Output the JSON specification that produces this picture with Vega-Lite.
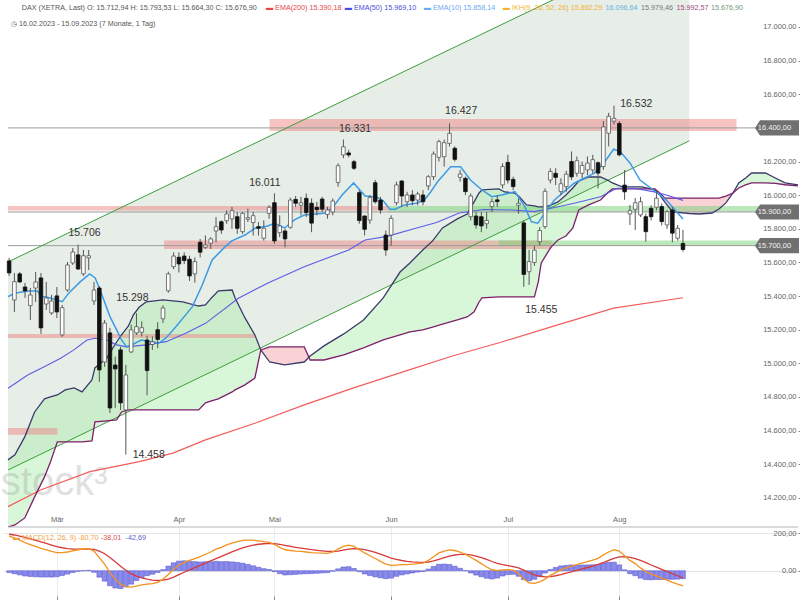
{
"$schema": "https://vega.github.io/schema/vega-lite/v6.json",
"padding": 0,
"spacing": 0,
"bounds": "flush",
"background": "white",
"config": {
  "view": {"stroke": null},
  "font": "Liberation Sans",
  "locale": {"number": {"decimal": ",", "thousands": ".", "grouping": [3], "currency": ["", " €"]}}
},
"datasets": {
  "candles": [
    {"i":0,"o":15609,"h":15627,"l":15520,"c":15538},{"i":1,"o":15377,"h":15537,"l":15306,"c":15486},{"i":2,"o":15532,"h":15543,"l":15478,"c":15484},{"i":3,"o":15454,"h":15478,"l":15389,"c":15431},{"i":4,"o":15343,"h":15448,"l":15258,"c":15407},{"i":5,"o":15448,"h":15543,"l":15365,"c":15484},{"i":6,"o":15508,"h":15537,"l":15175,"c":15211},{"i":7,"o":15353,"h":15484,"l":15318,"c":15389},{"i":8,"o":15300,"h":15407,"l":15288,"c":15371},{"i":9,"o":15401,"h":15454,"l":15270,"c":15306},
    {"i":10,"o":15169,"h":15347,"l":15157,"c":15331},{"i":11,"o":15436,"h":15603,"l":15425,"c":15585},{"i":12,"o":15597,"h":15686,"l":15585,"c":15662},{"i":13,"o":15645,"h":15706,"l":15555,"c":15561},{"i":14,"o":15532,"h":15674,"l":15520,"c":15640},{"i":15,"o":15627,"h":15674,"l":15555,"c":15640},{"i":16,"o":15371,"h":15484,"l":15347,"c":15436},{"i":17,"o":15448,"h":15460,"l":14890,"c":14961},{"i":18,"o":15008,"h":15258,"l":14979,"c":15240},{"i":19,"o":15181,"h":15211,"l":14705,"c":14735},
    {"i":20,"o":14990,"h":15040,"l":14735,"c":14967},{"i":21,"o":15080,"h":15098,"l":14723,"c":14765},{"i":22,"o":14723,"h":14990,"l":14458,"c":14931},{"i":23,"o":15068,"h":15230,"l":15062,"c":15199},{"i":24,"o":15181,"h":15298,"l":15169,"c":15218},{"i":25,"o":15185,"h":15250,"l":15160,"c":15212},{"i":26,"o":15139,"h":15165,"l":14810,"c":14957},{"i":27,"o":15112,"h":15160,"l":15080,"c":15128},{"i":28,"o":15200,"h":15245,"l":15090,"c":15142},{"i":29,"o":15265,"h":15345,"l":15240,"c":15329},
    {"i":30,"o":15432,"h":15545,"l":15420,"c":15532},{"i":31,"o":15575,"h":15660,"l":15560,"c":15638},{"i":32,"o":15631,"h":15660,"l":15540,"c":15591},{"i":33,"o":15638,"h":15660,"l":15590,"c":15611},{"i":34,"o":15619,"h":15640,"l":15490,"c":15520},{"i":35,"o":15532,"h":15630,"l":15480,"c":15605},{"i":36,"o":15720,"h":15740,"l":15630,"c":15661},{"i":37,"o":15690,"h":15760,"l":15680,"c":15704},{"i":38,"o":15714,"h":15750,"l":15680,"c":15740},{"i":39,"o":15787,"h":15870,"l":15720,"c":15813},
    {"i":40,"o":15842,"h":15850,"l":15770,"c":15793},{"i":41,"o":15848,"h":15910,"l":15830,"c":15888},{"i":42,"o":15859,"h":15930,"l":15800,"c":15908},{"i":43,"o":15872,"h":15900,"l":15770,"c":15803},{"i":44,"o":15783,"h":15900,"l":15770,"c":15892},{"i":45,"o":15857,"h":15920,"l":15840,"c":15866},{"i":46,"o":15837,"h":15900,"l":15760,"c":15878},{"i":47,"o":15813,"h":15840,"l":15760,"c":15803},{"i":48,"o":15744,"h":15850,"l":15730,"c":15803},{"i":49,"o":15892,"h":15940,"l":15860,"c":15928},
    {"i":50,"o":15955,"h":16011,"l":15710,"c":15728},{"i":51,"o":15777,"h":15880,"l":15750,"c":15817},{"i":52,"o":15787,"h":15800,"l":15690,"c":15740},{"i":53,"o":15809,"h":15985,"l":15800,"c":15971},{"i":54,"o":15975,"h":15995,"l":15930,"c":15952},{"i":55,"o":15940,"h":15990,"l":15880,"c":15955},{"i":56,"o":15981,"h":16010,"l":15870,"c":15896},{"i":57,"o":15952,"h":15980,"l":15780,"c":15834},{"i":58,"o":15928,"h":15960,"l":15880,"c":15914},{"i":59,"o":15977,"h":15990,"l":15900,"c":15917},
    {"i":60,"o":15885,"h":15930,"l":15860,"c":15912},{"i":61,"o":15900,"h":15980,"l":15880,"c":15965},{"i":62,"o":16075,"h":16190,"l":16050,"c":16175},{"i":63,"o":16239,"h":16331,"l":16220,"c":16288},{"i":64,"o":16251,"h":16270,"l":16225,"c":16239},{"i":65,"o":16199,"h":16210,"l":16150,"c":16160},{"i":66,"o":16015,"h":16030,"l":15830,"c":15849},{"i":67,"o":15876,"h":15880,"l":15760,"c":15797},{"i":68,"o":15852,"h":16000,"l":15830,"c":15987},{"i":69,"o":16074,"h":16090,"l":15950,"c":15961},
    {"i":70,"o":15971,"h":15990,"l":15890,"c":15912},{"i":71,"o":15763,"h":15790,"l":15640,"c":15674},{"i":72,"o":15763,"h":15880,"l":15700,"c":15862},{"i":73,"o":15955,"h":16080,"l":15940,"c":16061},{"i":74,"o":16084,"h":16090,"l":15930,"c":15995},{"i":75,"o":15961,"h":16020,"l":15930,"c":16001},{"i":76,"o":16001,"h":16030,"l":15940,"c":15967},{"i":77,"o":15971,"h":16020,"l":15940,"c":16007},{"i":78,"o":16001,"h":16030,"l":15940,"c":15961},{"i":79,"o":16055,"h":16120,"l":16030,"c":16110},
    {"i":80,"o":16110,"h":16260,"l":16090,"c":16245},{"i":81,"o":16225,"h":16330,"l":16200,"c":16318},{"i":82,"o":16229,"h":16330,"l":16170,"c":16312},{"i":83,"o":16308,"h":16427,"l":16290,"c":16368},{"i":84,"o":16279,"h":16290,"l":16200,"c":16213},{"i":85,"o":16106,"h":16150,"l":16080,"c":16126},{"i":86,"o":16100,"h":16110,"l":16000,"c":16021},{"i":87,"o":15872,"h":16010,"l":15850,"c":15995},{"i":88,"o":15876,"h":15900,"l":15800,"c":15823},{"i":89,"o":15872,"h":15900,"l":15780,"c":15817},
    {"i":90,"o":15830,"h":15900,"l":15800,"c":15850},{"i":91,"o":15932,"h":15980,"l":15900,"c":15961},{"i":92,"o":15972,"h":16000,"l":15930,"c":15962},{"i":93,"o":16061,"h":16190,"l":16040,"c":16170},{"i":94,"o":16195,"h":16240,"l":16070,"c":16090},{"i":95,"o":16094,"h":16110,"l":16030,"c":16051},{"i":96,"o":15940,"h":15980,"l":15890,"c":15952},{"i":97,"o":15835,"h":15850,"l":15455,"c":15529},{"i":98,"o":15545,"h":15675,"l":15466,"c":15605},{"i":99,"o":15600,"h":15700,"l":15580,"c":15673},
    {"i":100,"o":15724,"h":15810,"l":15700,"c":15790},{"i":101,"o":15813,"h":16040,"l":15800,"c":16023},{"i":102,"o":16090,"h":16160,"l":16070,"c":16141},{"i":103,"o":16130,"h":16160,"l":16060,"c":16106},{"i":104,"o":16021,"h":16100,"l":16000,"c":16068},{"i":105,"o":16051,"h":16145,"l":16020,"c":16125},{"i":106,"o":16200,"h":16260,"l":16090,"c":16109},{"i":107,"o":16130,"h":16230,"l":16110,"c":16205},{"i":108,"o":16130,"h":16200,"l":16100,"c":16177},{"i":109,"o":16150,"h":16230,"l":16120,"c":16191},
    {"i":110,"o":16150,"h":16240,"l":16130,"c":16211},{"i":111,"o":16193,"h":16200,"l":16040,"c":16131},{"i":112,"o":16170,"h":16440,"l":16150,"c":16406},{"i":113,"o":16368,"h":16490,"l":16290,"c":16469},{"i":114,"o":16440,"h":16532,"l":16420,"c":16457},{"i":115,"o":16427,"h":16440,"l":16230,"c":16240},{"i":116,"o":16060,"h":16150,"l":15972,"c":16020},{"i":117,"o":15888,"h":15942,"l":15823,"c":15908},{"i":118,"o":15916,"h":15983,"l":15793,"c":15955},{"i":119,"o":15882,"h":15990,"l":15870,"c":15961},
    {"i":120,"o":15872,"h":15890,"l":15724,"c":15783},{"i":121,"o":15922,"h":15940,"l":15850,"c":15872},{"i":122,"o":15928,"h":16031,"l":15910,"c":15982},{"i":123,"o":15932,"h":15950,"l":15820,"c":15843},{"i":124,"o":15823,"h":15910,"l":15800,"c":15902},{"i":125,"o":15912,"h":15930,"l":15720,"c":15774},{"i":126,"o":15744,"h":15823,"l":15730,"c":15803},{"i":127,"o":15712.94,"h":15793.53,"l":15664.3,"c":15676.9}
  ],
  "ema10": [
    {"i":-0.21,"v":15397},{"i":1.03,"v":15417},{"i":3.51,"v":15430},{"i":5.37,"v":15430},{"i":5.93,"v":15400},{"i":7.79,"v":15389},{"i":10.02,"v":15367},{"i":11.27,"v":15419},{"i":13.43,"v":15486},{"i":15.18,"v":15532},{"i":16.22,"v":15508},{"i":17.15,"v":15436},{"i":19.01,"v":15278},{"i":20.26,"v":15199},{"i":21.19,"v":15139},{"i":22.12,"v":15099},{"i":23.05,"v":15109},{"i":24.91,"v":15139},{"i":28.26,"v":15121},{"i":29.57,"v":15151},{"i":31.43,"v":15218},{"i":34.54,"v":15337},{"i":36.4,"v":15466},{"i":38.26,"v":15615},{"i":40.73,"v":15694},{"i":41.98,"v":15728},{"i":44.45,"v":15763},{"i":46.32,"v":15803},{"i":48.74,"v":15817},{"i":50.04,"v":15833},{"i":51.9,"v":15805},{"i":53.76,"v":15853},{"i":55.62,"v":15882},{"i":59.34,"v":15892},{"i":60.89,"v":15922},{"i":62.75,"v":16001},{"i":64.93,"v":16073},{"i":67.1,"v":15995},{"i":69.26,"v":15989},{"i":70.51,"v":15966},{"i":71.76,"v":15916},{"i":72.74,"v":15916},{"i":74.55,"v":15942},{"i":76.71,"v":15952},{"i":78.27,"v":15971},{"i":79.45,"v":16019},{"i":80.75,"v":16080},{"i":83.22,"v":16169},{"i":85.08,"v":16169},{"i":86.95,"v":16090},{"i":89.12,"v":16031},{"i":90.98,"v":15991},{"i":92.85,"v":16001},{"i":95.32,"v":16021},{"i":97.18,"v":15932},{"i":98.43,"v":15842},{"i":99.67,"v":15833},{"i":100.9,"v":15892},{"i":102.77,"v":15971},{"i":106.49,"v":16071},{"i":110.21,"v":16130},{"i":112.07,"v":16190},{"i":113.93,"v":16273},{"i":115.18,"v":16259},{"i":117.04,"v":16190},{"i":118.9,"v":16090},{"i":121.38,"v":16031},{"i":123.87,"v":15971},{"i":127,"v":15858}
  ],
  "ema50": [
    {"i":-0.21,"v":14852},{"i":3.51,"v":14931},{"i":6.62,"v":14980},{"i":9.71,"v":15030},{"i":12.2,"v":15080},{"i":14.68,"v":15139},{"i":16.22,"v":15149},{"i":18.4,"v":15139},{"i":20.26,"v":15110},{"i":22.12,"v":15098},{"i":25.84,"v":15110},{"i":29.57,"v":15129},{"i":33.29,"v":15179},{"i":37.01,"v":15238},{"i":43.21,"v":15387},{"i":48.79,"v":15478},{"i":55.62,"v":15575},{"i":58.97,"v":15615},{"i":64.0,"v":15674},{"i":67.1,"v":15734},{"i":71.25,"v":15755},{"i":76.47,"v":15802},{"i":80.56,"v":15838},{"i":84.84,"v":15894},{"i":89.5,"v":15915},{"i":94.7,"v":15912},{"i":99.04,"v":15902},{"i":102.15,"v":15922},{"i":106.49,"v":15952},{"i":111.46,"v":15991},{"i":114.56,"v":16041},{"i":117.66,"v":16041},{"i":121.38,"v":16021},{"i":123.87,"v":16001},{"i":127,"v":15969}
  ],
  "ema200": [
    {"i":-0.21,"v":14148},{"i":5.93,"v":14247},{"i":15.23,"v":14356},{"i":24.54,"v":14416},{"i":30.87,"v":14466},{"i":37.01,"v":14545},{"i":46.32,"v":14644},{"i":55.62,"v":14753},{"i":64.93,"v":14854},{"i":74.23,"v":14949},{"i":83.54,"v":15044},{"i":92.85,"v":15127},{"i":102.15,"v":15217},{"i":113.93,"v":15328},{"i":127,"v":15390}
  ],
  "channel": [
    {"i":-0.21,"lo":14366,"hi":15603},{"i":128.2,"lo":16323,"hi":17551}
  ],
  "cloud": [
    {"seg":"g1","i":-0.21,"a":14426,"b":14027},{"seg":"g1","i":1.09,"a":14456,"b":14039},{"seg":"g1","i":2.95,"a":14563,"b":14081},{"seg":"g1","i":4.81,"a":14711,"b":14206},{"seg":"g1","i":6.67,"a":14789,"b":14325},{"seg":"g1","i":7.79,"a":14800,"b":14414},{"seg":"g1","i":9.09,"a":14812,"b":14533},{"seg":"g1","i":10.58,"a":14842,"b":14533},{"seg":"g1","i":12.26,"a":14854,"b":14533},{"seg":"g1","i":13.75,"a":14830,"b":14533},{"seg":"g1","i":15.61,"a":14901,"b":14539},{"seg":"g1","i":16.17,"a":14973,"b":14652},{"seg":"g1","i":18.4,"a":15032,"b":14658},{"seg":"g1","i":20.26,"a":15127,"b":14664},{"seg":"g1","i":21.19,"a":15169,"b":14711},{"seg":"g1","i":22.49,"a":15222,"b":14723},{"seg":"g1","i":23.42,"a":15288,"b":14723},{"seg":"g1","i":24.54,"a":15335,"b":14723},{"seg":"g1","i":25.84,"a":15365,"b":14723},{"seg":"g1","i":29.01,"a":15377,"b":14723},{"seg":"g1","i":32.73,"a":15365,"b":14723},{"seg":"g1","i":35.71,"a":15341,"b":14723},{"seg":"g1","i":37.01,"a":15347,"b":14765},{"seg":"g1","i":38.13,"a":15389,"b":14777},{"seg":"g1","i":39.43,"a":15431,"b":14789},{"seg":"g1","i":42.04,"a":15436,"b":14830},{"seg":"g1","i":42.59,"a":15389,"b":14842},{"seg":"g1","i":44.45,"a":15270,"b":14872},{"seg":"g1","i":46.32,"a":15169,"b":14913},{"seg":"g1","i":47.43,"a":15080,"b":15080},
    {"seg":"p1","i":47.43,"a":15080,"b":15080},{"seg":"p1","i":49.11,"a":15008,"b":15098},{"seg":"p1","i":51.9,"a":14991,"b":15098},{"seg":"p1","i":55.62,"a":15008,"b":15098},{"seg":"p1","i":56.5,"a":15036,"b":15036},
    {"seg":"g2","i":56.5,"a":15036,"b":15036},{"seg":"g2","i":56.74,"a":15044,"b":15020},{"seg":"g2","i":59.34,"a":15104,"b":15020},{"seg":"g2","i":63.07,"a":15175,"b":15050},{"seg":"g2","i":66.79,"a":15258,"b":15092},{"seg":"g2","i":70.51,"a":15389,"b":15139},{"seg":"g2","i":73.68,"a":15543,"b":15169},{"seg":"g2","i":75.54,"a":15597,"b":15187},{"seg":"g2","i":77.96,"a":15674,"b":15199},{"seg":"g2","i":79.82,"a":15728,"b":15216},{"seg":"g2","i":81.68,"a":15805,"b":15234},{"seg":"g2","i":84.47,"a":15859,"b":15258},{"seg":"g2","i":86.33,"a":15888,"b":15276},{"seg":"g2","i":87.64,"a":15960,"b":15306},{"seg":"g2","i":88.57,"a":16013,"b":15365},{"seg":"g2","i":89.12,"a":16031,"b":15389},{"seg":"g2","i":92.29,"a":16037,"b":15395},{"seg":"g2","i":93.4,"a":16019,"b":15395},{"seg":"g2","i":95.27,"a":16013,"b":15395},{"seg":"g2","i":96.2,"a":15989,"b":15395},{"seg":"g2","i":97.5,"a":15942,"b":15395},{"seg":"g2","i":99.0,"a":15936,"b":15395},{"seg":"g2","i":99.73,"a":15930,"b":15484},{"seg":"g2","i":100.29,"a":15930,"b":15597},{"seg":"g2","i":101.22,"a":15930,"b":15645},{"seg":"g2","i":102.15,"a":15942,"b":15692},{"seg":"g2","i":103.45,"a":15960,"b":15734},{"seg":"g2","i":104.94,"a":16001,"b":15757},{"seg":"g2","i":106.25,"a":16043,"b":15805},{"seg":"g2","i":107.36,"a":16084,"b":15912},{"seg":"g2","i":109.22,"a":16108,"b":15942},{"seg":"g2","i":111.46,"a":16108,"b":15971},{"seg":"g2","i":112.76,"a":16090,"b":16013},{"seg":"g2","i":113.69,"a":16073,"b":16037},{"seg":"g2","i":115.55,"a":16049,"b":16037},{"seg":"g2","i":119.28,"a":16049,"b":16037},{"seg":"g2","i":120.89,"a":16037,"b":16037},
    {"seg":"p2","i":120.89,"a":16037,"b":16037},{"seg":"p2","i":121.69,"a":16031,"b":16037},{"seg":"p2","i":122.62,"a":16001,"b":16013},{"seg":"p2","i":123.55,"a":15960,"b":15983},{"seg":"p2","i":125.04,"a":15900,"b":15983},{"seg":"p2","i":128.21,"a":15891,"b":15983},{"seg":"p2","i":130.07,"a":15888,"b":15983},{"seg":"p2","i":132.49,"a":15894,"b":15983},{"seg":"p2","i":133.79,"a":15918,"b":15983},{"seg":"p2","i":135.09,"a":15954,"b":15995},{"seg":"p2","i":136.43,"a":16013,"b":16013},
    {"seg":"g3","i":136.43,"a":16013,"b":16013},{"seg":"g3","i":137.51,"a":16073,"b":16043},{"seg":"g3","i":138.81,"a":16102,"b":16061},{"seg":"g3","i":139.93,"a":16132,"b":16073},{"seg":"g3","i":142.54,"a":16132,"b":16073},{"seg":"g3","i":144.4,"a":16102,"b":16070},{"seg":"g3","i":146.26,"a":16073,"b":16062},{"seg":"g3","i":148.68,"a":16061,"b":16055}
  ],
  "bands": [
    {"i1":49.1,"i2":137.1,"p1":16382,"p2":16453,"kind":"r"},
    {"i1":-0.21,"i2":71.4,"p1":15909,"p2":15936,"kind":"r"},
    {"i1":71.4,"i2":141.2,"p1":15902,"p2":15936,"kind":"g"},
    {"i1":29.2,"i2":102.2,"p1":15680,"p2":15730,"kind":"r"},
    {"i1":92.3,"i2":141.2,"p1":15698,"p2":15730,"kind":"g"},
    {"i1":-0.21,"i2":46.3,"p1":15151,"p2":15175,"kind":"r"},
    {"i1":-0.21,"i2":9.1,"p1":14575,"p2":14616,"kind":"r"}
  ],
  "levels": [{"p":16400},{"p":15900},{"p":15700}],
  "notes": [
    {"i":14.21,"p":15775,"t":"15.706"},{"i":23.24,"p":15389,"t":"15.298"},{"i":26.31,"p":14458,"t":"14.458"},{"i":48.2,"p":16075,"t":"16.011"},{"i":65.2,"p":16396,"t":"16.331"},{"i":85.2,"p":16498,"t":"16.427"},{"i":118.2,"p":16545,"t":"16.532"},{"i":100.3,"p":15318,"t":"15.455"}
  ],
  "macd": [
    {"i":0,"m":185,"s":195,"h":-10},{"i":1,"m":175,"s":191,"h":-16},{"i":2,"m":163,"s":185.4,"h":-22.4},{"i":3,"m":150,"s":178.3,"h":-28.3},{"i":4,"m":140,"s":170.6,"h":-30.6},{"i":5,"m":130,"s":162.5,"h":-32.5},{"i":6,"m":120,"s":154,"h":-34},{"i":7,"m":112,"s":145.6,"h":-33.6},{"i":8,"m":103,"s":137.1,"h":-34.1},{"i":9,"m":97,"s":129.1,"h":-32.1},
    {"i":10,"m":97,"s":122.7,"h":-25.7},{"i":11,"m":100,"s":118.2,"h":-18.2},{"i":12,"m":106,"s":115.7,"h":-9.7},{"i":13,"m":112,"s":115,"h":-3},{"i":14,"m":116,"s":115.2,"h":0.8},{"i":15,"m":118,"s":115.8,"h":2.2},{"i":16,"m":105,"s":113.6,"h":-8.6},{"i":17,"m":70,"s":104.9,"h":-34.9},{"i":18,"m":35,"s":90.9,"h":-55.9},{"i":19,"m":-10,"s":70.7,"h":-80.7},
    {"i":20,"m":-45,"s":47.6,"h":-92.6},{"i":21,"m":-72,"s":23.7,"h":-95.7},{"i":22,"m":-85,"s":2,"h":-87},{"i":23,"m":-88,"s":-16,"h":-72},{"i":24,"m":-82,"s":-29.2,"h":-52.8},{"i":25,"m":-76,"s":-38.6,"h":-37.4},{"i":26,"m":-72,"s":-45.3,"h":-26.7},{"i":27,"m":-69,"s":-50,"h":-19},{"i":28,"m":-62,"s":-52.4,"h":-9.6},{"i":29,"m":-45,"s":-50.9,"h":5.9},
    {"i":30,"m":-20,"s":-44.7,"h":24.7},{"i":31,"m":8,"s":-34.2,"h":42.2},{"i":32,"m":30,"s":-21.4,"h":51.4},{"i":33,"m":45,"s":-8.1,"h":53.1},{"i":34,"m":55,"s":4.5,"h":50.5},{"i":35,"m":65,"s":16.6,"h":48.4},{"i":36,"m":75,"s":28.3,"h":46.7},{"i":37,"m":88,"s":40.2,"h":47.8},{"i":38,"m":100,"s":52.2,"h":47.8},{"i":39,"m":115,"s":64.8,"h":50.2},
    {"i":40,"m":125,"s":76.8,"h":48.2},{"i":41,"m":138,"s":89,"h":49},{"i":42,"m":148,"s":100.8,"h":47.2},{"i":43,"m":156,"s":111.8,"h":44.2},{"i":44,"m":162,"s":121.8,"h":40.2},{"i":45,"m":164,"s":130.2,"h":33.8},{"i":46,"m":163,"s":136.8,"h":26.2},{"i":47,"m":160,"s":141.4,"h":18.6},{"i":48,"m":155,"s":144.1,"h":10.9},{"i":49,"m":152,"s":145.7,"h":6.3},
    {"i":50,"m":140,"s":144.6,"h":-4.6},{"i":51,"m":125,"s":140.7,"h":-15.7},{"i":52,"m":112,"s":135,"h":-23},{"i":53,"m":108,"s":129.6,"h":-21.6},{"i":54,"m":105,"s":124.7,"h":-19.7},{"i":55,"m":103,"s":120.4,"h":-17.4},{"i":56,"m":100,"s":116.3,"h":-16.3},{"i":57,"m":97,"s":112.4,"h":-15.4},{"i":58,"m":95,"s":108.9,"h":-13.9},{"i":59,"m":94,"s":105.9,"h":-11.9},
    {"i":60,"m":93,"s":103.3,"h":-10.3},{"i":61,"m":100,"s":102.6,"h":-2.6},{"i":62,"m":115,"s":105.1,"h":9.9},{"i":63,"m":130,"s":110.1,"h":19.9},{"i":64,"m":137,"s":115.5,"h":21.5},{"i":65,"m":130,"s":118.4,"h":11.6},{"i":66,"m":112,"s":117.1,"h":-5.1},{"i":67,"m":95,"s":112.7,"h":-17.7},{"i":68,"m":80,"s":106.2,"h":-26.2},{"i":69,"m":65,"s":98,"h":-33},
    {"i":70,"m":50,"s":88.4,"h":-38.4},{"i":71,"m":35,"s":77.7,"h":-42.7},{"i":72,"m":28,"s":67.8,"h":-39.8},{"i":73,"m":30,"s":60.2,"h":-30.2},{"i":74,"m":32,"s":54.6,"h":-22.6},{"i":75,"m":33,"s":50.3,"h":-17.3},{"i":76,"m":35,"s":47.2,"h":-12.2},{"i":77,"m":38,"s":45.4,"h":-7.4},{"i":78,"m":40,"s":44.3,"h":-4.3},{"i":79,"m":55,"s":46.4,"h":8.6},
    {"i":80,"m":75,"s":52.1,"h":22.9},{"i":81,"m":95,"s":60.7,"h":34.3},{"i":82,"m":105,"s":69.6,"h":35.4},{"i":83,"m":111,"s":77.9,"h":33.1},{"i":84,"m":108,"s":83.9,"h":24.1},{"i":85,"m":100,"s":87.1,"h":12.9},{"i":86,"m":88,"s":87.3,"h":0.7},{"i":87,"m":72,"s":84.2,"h":-12.2},{"i":88,"m":55,"s":78.4,"h":-23.4},{"i":89,"m":38,"s":70.3,"h":-32.3},
    {"i":90,"m":20,"s":60.2,"h":-40.2},{"i":91,"m":5,"s":49.2,"h":-44.2},{"i":92,"m":0,"s":39.4,"h":-39.4},{"i":93,"m":4,"s":32.3,"h":-28.3},{"i":94,"m":6,"s":27,"h":-21},{"i":95,"m":3,"s":22.2,"h":-19.2},{"i":96,"m":-15,"s":14.8,"h":-29.8},{"i":97,"m":-45,"s":2.8,"h":-47.8},{"i":98,"m":-65,"s":-10.8,"h":-54.2},{"i":99,"m":-68,"s":-22.2,"h":-45.8},
    {"i":100,"m":-60,"s":-29.8,"h":-30.2},{"i":101,"m":-45,"s":-32.8,"h":-12.2},{"i":102,"m":-25,"s":-31.2,"h":6.2},{"i":103,"m":-10,"s":-27,"h":17},{"i":104,"m":5,"s":-20.6,"h":25.6},{"i":105,"m":15,"s":-13.5,"h":28.5},{"i":106,"m":25,"s":-5.8,"h":30.8},{"i":107,"m":32,"s":1.8,"h":30.2},{"i":108,"m":40,"s":9.4,"h":30.6},{"i":109,"m":48,"s":17.1,"h":30.9},
    {"i":110,"m":57,"s":25.1,"h":31.9},{"i":111,"m":66,"s":33.3,"h":32.7},{"i":112,"m":85,"s":43.6,"h":41.4},{"i":113,"m":100,"s":54.9,"h":45.1},{"i":114,"m":112,"s":66.3,"h":45.7},{"i":115,"m":105,"s":74,"h":31},{"i":116,"m":80,"s":75.2,"h":4.8},{"i":117,"m":55,"s":71.2,"h":-16.2},{"i":118,"m":38,"s":64.6,"h":-26.6},{"i":119,"m":15,"s":54.7,"h":-39.7},
    {"i":120,"m":-5,"s":42.8,"h":-47.8},{"i":121,"m":-18,"s":30.6,"h":-48.6},{"i":122,"m":-28,"s":18.9,"h":-46.9},{"i":123,"m":-40,"s":7.1,"h":-47.1},{"i":124,"m":-50,"s":-4.3,"h":-45.7},{"i":125,"m":-62,"s":-15.8,"h":-46.2},{"i":126,"m":-72,"s":-27,"h":-45},{"i":127,"m":-80.7,"s":-38.01,"h":-42.69}
  ]
},
"vconcat": [
  {
    "width": 800,
    "height": 527,
    "resolve": {"scale": {"color": "independent"}, "axis": {"x": "independent", "y": "independent"}},
    "layer": [
      {"data": {"name": "channel"}, "mark": {"type": "area", "color": "#e7ede7", "clip": true},
       "encoding": {"x": {"field": "i", "type": "quantitative", "scale": {"domain": [-0.21, 148.68], "nice": false, "zero": false}, "axis": null},
                    "y": {"field": "lo", "type": "quantitative", "scale": {"domain": [14027, 17160.5], "nice": false, "zero": false}, "axis": null},
                    "y2": {"field": "hi"}}},
      {"data": {"name": "cloud"}, "mark": {"type": "area", "fillOpacity": 0.5, "clip": true},
       "encoding": {"x": {"field": "i", "type": "quantitative", "scale": {"domain": [-0.21, 148.68], "nice": false, "zero": false}, "axis": null},
                    "y": {"field": "a", "type": "quantitative", "stack": null, "scale": {"domain": [14027, 17160.5], "nice": false, "zero": false}, "axis": null},
                    "y2": {"field": "b"},
                    "color": {"field": "seg", "type": "nominal", "legend": null, "scale": {"domain": ["g1", "p1", "g2", "p2", "g3"], "range": ["#b2eeb2", "#f4a6ae", "#b2eeb2", "#f4a6ae", "#b2eeb2"]}}}},
      {"data": {"values": [{}]}, "mark": {"type": "text", "align": "center", "baseline": "middle", "fontSize": 40, "font": "Liberation Sans", "color": "#9a9a9a", "opacity": 0.3},
       "encoding": {"x": {"datum": 8.5, "type": "quantitative", "scale": {"domain": [-0.21, 148.68], "nice": false, "zero": false}, "axis": null},
                    "y": {"datum": 14289, "type": "quantitative", "scale": {"domain": [14027, 17160.5], "nice": false, "zero": false}, "axis": null},
                    "text": {"value": "stock³"}}},
      {"data": {"name": "bands"}, "mark": {"type": "rect", "opacity": 0.5},
       "encoding": {"x": {"field": "i1", "type": "quantitative", "scale": {"domain": [-0.21, 148.68], "nice": false, "zero": false}, "axis": null},
                    "x2": {"field": "i2"},
                    "y": {"field": "p1", "type": "quantitative", "scale": {"domain": [14027, 17160.5], "nice": false, "zero": false}, "axis": null},
                    "y2": {"field": "p2"},
                    "color": {"field": "kind", "type": "nominal", "legend": null, "scale": {"domain": ["r", "g"], "range": ["#ee8585", "#78d078"]}}}},
      {"data": {"name": "levels"}, "mark": {"type": "rule", "color": "#9c9c9c", "strokeWidth": 1},
       "encoding": {"x": {"datum": -0.21, "type": "quantitative", "scale": {"domain": [-0.21, 148.68], "nice": false, "zero": false}, "axis": null},
                    "x2": {"datum": 141.3},
                    "y": {"field": "p", "type": "quantitative", "scale": {"domain": [14027, 17160.5], "nice": false, "zero": false}, "axis": null}}},
      {"data": {"name": "channel"}, "mark": {"type": "line", "color": "#3d9e3d", "strokeWidth": 1, "clip": true},
       "encoding": {"x": {"field": "i", "type": "quantitative", "scale": {"domain": [-0.21, 148.68], "nice": false, "zero": false}, "axis": null},
                    "y": {"field": "lo", "type": "quantitative", "scale": {"domain": [14027, 17160.5], "nice": false, "zero": false}, "axis": null}}},
      {"data": {"name": "channel"}, "mark": {"type": "line", "color": "#3d9e3d", "strokeWidth": 1, "clip": true},
       "encoding": {"x": {"field": "i", "type": "quantitative", "scale": {"domain": [-0.21, 148.68], "nice": false, "zero": false}, "axis": null},
                    "y": {"field": "hi", "type": "quantitative", "scale": {"domain": [14027, 17160.5], "nice": false, "zero": false}, "axis": null}}},
      {"data": {"name": "ema200"}, "mark": {"type": "line", "color": "#f45c5c", "strokeWidth": 1.2, "clip": true},
       "encoding": {"x": {"field": "i", "type": "quantitative", "scale": {"domain": [-0.21, 148.68], "nice": false, "zero": false}, "axis": null},
                    "y": {"field": "v", "type": "quantitative", "scale": {"domain": [14027, 17160.5], "nice": false, "zero": false}, "axis": null}}},
      {"data": {"name": "cloud"}, "mark": {"type": "line", "color": "#3b3b6b", "strokeWidth": 1.3, "clip": true},
       "encoding": {"x": {"field": "i", "type": "quantitative", "scale": {"domain": [-0.21, 148.68], "nice": false, "zero": false}, "axis": null},
                    "y": {"field": "a", "type": "quantitative", "scale": {"domain": [14027, 17160.5], "nice": false, "zero": false}, "axis": null}}},
      {"data": {"name": "cloud"}, "mark": {"type": "line", "color": "#7d1f6a", "strokeWidth": 1.3, "clip": true},
       "encoding": {"x": {"field": "i", "type": "quantitative", "scale": {"domain": [-0.21, 148.68], "nice": false, "zero": false}, "axis": null},
                    "y": {"field": "b", "type": "quantitative", "scale": {"domain": [14027, 17160.5], "nice": false, "zero": false}, "axis": null}}},
      {"data": {"name": "ema50"}, "mark": {"type": "line", "color": "#5c5ce8", "strokeWidth": 1.1, "clip": true},
       "encoding": {"x": {"field": "i", "type": "quantitative", "scale": {"domain": [-0.21, 148.68], "nice": false, "zero": false}, "axis": null},
                    "y": {"field": "v", "type": "quantitative", "scale": {"domain": [14027, 17160.5], "nice": false, "zero": false}, "axis": null}}},
      {"data": {"name": "ema10"}, "mark": {"type": "line", "color": "#3d9be6", "strokeWidth": 1.5, "clip": true},
       "encoding": {"x": {"field": "i", "type": "quantitative", "scale": {"domain": [-0.21, 148.68], "nice": false, "zero": false}, "axis": null},
                    "y": {"field": "v", "type": "quantitative", "scale": {"domain": [14027, 17160.5], "nice": false, "zero": false}, "axis": null}}},
      {"data": {"name": "candles"}, "mark": {"type": "rule", "color": "#555555", "strokeWidth": 1},
       "encoding": {"x": {"field": "i", "type": "quantitative", "scale": {"domain": [-0.21, 148.68], "nice": false, "zero": false},
                          "axis": {"title": null, "orient": "bottom", "values": [9, 32, 50, 72, 94, 115], "labelExpr": "datum.value == 9 ? 'Mär' : datum.value == 32 ? 'Apr' : datum.value == 50 ? 'Mai' : datum.value == 72 ? 'Jun' : datum.value == 94 ? 'Jul' : 'Aug'", "offset": -14, "ticks": false, "domain": false, "grid": false, "labelFont": "Liberation Sans", "labelFontSize": 7.5, "labelColor": "#666666", "labelPadding": 2, "labelFlush": false, "labelOverlap": false, "zindex": 1}},
                    "y": {"field": "l", "type": "quantitative", "scale": {"domain": [14027, 17160.5], "nice": false, "zero": false},
                          "axis": {"title": null, "orient": "right", "values": [14200, 14400, 14600, 14800, 15000, 15200, 15400, 15600, 15800, 16000, 16200, 16600, 16800, 17000], "format": ",.2f", "labelAlign": "right", "labelBaseline": "middle", "labelPadding": -7, "offset": -5, "tickSize": 5, "tickColor": "#888888", "domain": false, "grid": false, "labelFont": "Liberation Sans", "labelFontSize": 7.5, "labelColor": "#666666", "labelOverlap": false, "labelBound": false, "zindex": 1}},
                    "y2": {"field": "h"}}},
      {"data": {"name": "candles"}, "mark": {"type": "bar", "size": 3.6, "strokeWidth": 0.8},
       "encoding": {"x": {"field": "i", "type": "quantitative", "scale": {"domain": [-0.21, 148.68], "nice": false, "zero": false}, "axis": null},
                    "y": {"field": "o", "type": "quantitative", "scale": {"domain": [14027, 17160.5], "nice": false, "zero": false}, "axis": null},
                    "y2": {"field": "c"},
                    "color": {"condition": {"test": "datum.c >= datum.o", "value": "#ffffff"}, "value": "#111111"},
                    "stroke": {"condition": {"test": "datum.c >= datum.o", "value": "#555555"}, "value": "#111111"}}},
      {"data": {"name": "notes"}, "mark": {"type": "text", "align": "center", "baseline": "middle", "fontSize": 10.5, "font": "Liberation Sans", "color": "#333333"},
       "encoding": {"x": {"field": "i", "type": "quantitative", "scale": {"domain": [-0.21, 148.68], "nice": false, "zero": false}, "axis": null},
                    "y": {"field": "p", "type": "quantitative", "scale": {"domain": [14027, 17160.5], "nice": false, "zero": false}, "axis": null},
                    "text": {"field": "t"}}},
      {"data": {"name": "levels"}, "mark": {"type": "point", "filled": true, "opacity": 1, "size": 1600, "shape": "M-1.2,0 L-0.95,-0.38 L1,-0.38 L1,0.38 L-0.95,0.38 Z", "color": "#707070"},
       "encoding": {"x": {"datum": 145.1, "type": "quantitative", "scale": {"domain": [-0.21, 148.68], "nice": false, "zero": false}, "axis": null},
                    "y": {"field": "p", "type": "quantitative", "scale": {"domain": [14027, 17160.5], "nice": false, "zero": false}, "axis": null}}},
      {"data": {"name": "levels"}, "mark": {"type": "text", "align": "right", "baseline": "middle", "fontSize": 7.5, "font": "Liberation Sans", "color": "#f2f2f2"},
       "encoding": {"x": {"datum": 147.4, "type": "quantitative", "scale": {"domain": [-0.21, 148.68], "nice": false, "zero": false}, "axis": null},
                    "y": {"field": "p", "type": "quantitative", "scale": {"domain": [14027, 17160.5], "nice": false, "zero": false}, "axis": null},
                    "text": {"field": "p", "format": ",.2f"}}},
      {"data": {"values": [{}]}, "mark": {"type": "text", "align": "left", "baseline": "middle", "fontSize": 7.2, "font": "Liberation Sans", "color": "#555555"},
       "encoding": {"x": {"datum": 2.39, "type": "quantitative", "scale": {"domain": [-0.21, 148.68], "nice": false, "zero": false}, "axis": null},
                    "y": {"datum": 17113, "type": "quantitative", "scale": {"domain": [14027, 17160.5], "nice": false, "zero": false}, "axis": null},
                    "text": {"value": "DAX (XETRA, Last)  O: 15.712,94  H: 15.793,53  L: 15.664,30  C: 15.676,90"}}},
      {"data": {"values": [{}]}, "mark": {"type": "text", "align": "left", "baseline": "middle", "fontSize": 7.2, "font": "Liberation Sans", "color": "#e84545"},
       "encoding": {"x": {"datum": 48.4, "type": "quantitative", "scale": {"domain": [-0.21, 148.68], "nice": false, "zero": false}, "axis": null},
                    "y": {"datum": 17113, "type": "quantitative", "scale": {"domain": [14027, 17160.5], "nice": false, "zero": false}, "axis": null},
                    "text": {"value": "▬ EMA(200)  15.390,18"}}},
      {"data": {"values": [{}]}, "mark": {"type": "text", "align": "left", "baseline": "middle", "fontSize": 7.2, "font": "Liberation Sans", "color": "#4a4ae0"},
       "encoding": {"x": {"datum": 63.25, "type": "quantitative", "scale": {"domain": [-0.21, 148.68], "nice": false, "zero": false}, "axis": null},
                    "y": {"datum": 17113, "type": "quantitative", "scale": {"domain": [14027, 17160.5], "nice": false, "zero": false}, "axis": null},
                    "text": {"value": "▬ EMA(50)  15.969,10"}}},
      {"data": {"values": [{}]}, "mark": {"type": "text", "align": "left", "baseline": "middle", "fontSize": 7.2, "font": "Liberation Sans", "color": "#6aaaf0"},
       "encoding": {"x": {"datum": 78.15, "type": "quantitative", "scale": {"domain": [-0.21, 148.68], "nice": false, "zero": false}, "axis": null},
                    "y": {"datum": 17113, "type": "quantitative", "scale": {"domain": [14027, 17160.5], "nice": false, "zero": false}, "axis": null},
                    "text": {"value": "▬ EMA(10)  15.858,14"}}},
      {"data": {"values": [{}]}, "mark": {"type": "text", "align": "left", "baseline": "middle", "fontSize": 7.2, "font": "Liberation Sans", "color": "#f2b233"},
       "encoding": {"x": {"datum": 93.03, "type": "quantitative", "scale": {"domain": [-0.21, 148.68], "nice": false, "zero": false}, "axis": null},
                    "y": {"datum": 17113, "type": "quantitative", "scale": {"domain": [14027, 17160.5], "nice": false, "zero": false}, "axis": null},
                    "text": {"value": "▬ IKH(9, 26, 52, 26)  15.862,29"}}},
      {"data": {"values": [{}]}, "mark": {"type": "text", "align": "left", "baseline": "middle", "fontSize": 7.2, "font": "Liberation Sans", "color": "#5fb2e0"},
       "encoding": {"x": {"datum": 112.39, "type": "quantitative", "scale": {"domain": [-0.21, 148.68], "nice": false, "zero": false}, "axis": null},
                    "y": {"datum": 17113, "type": "quantitative", "scale": {"domain": [14027, 17160.5], "nice": false, "zero": false}, "axis": null},
                    "text": {"value": "16.096,64"}}},
      {"data": {"values": [{}]}, "mark": {"type": "text", "align": "left", "baseline": "middle", "fontSize": 7.2, "font": "Liberation Sans", "color": "#777777"},
       "encoding": {"x": {"datum": 119.09, "type": "quantitative", "scale": {"domain": [-0.21, 148.68], "nice": false, "zero": false}, "axis": null},
                    "y": {"datum": 17113, "type": "quantitative", "scale": {"domain": [14027, 17160.5], "nice": false, "zero": false}, "axis": null},
                    "text": {"value": "15.979,46"}}},
      {"data": {"values": [{}]}, "mark": {"type": "text", "align": "left", "baseline": "middle", "fontSize": 7.2, "font": "Liberation Sans", "color": "#9a4a7a"},
       "encoding": {"x": {"datum": 125.79, "type": "quantitative", "scale": {"domain": [-0.21, 148.68], "nice": false, "zero": false}, "axis": null},
                    "y": {"datum": 17113, "type": "quantitative", "scale": {"domain": [14027, 17160.5], "nice": false, "zero": false}, "axis": null},
                    "text": {"value": "15.992,57"}}},
      {"data": {"values": [{}]}, "mark": {"type": "text", "align": "left", "baseline": "middle", "fontSize": 7.2, "font": "Liberation Sans", "color": "#6f9a6f"},
       "encoding": {"x": {"datum": 132.3, "type": "quantitative", "scale": {"domain": [-0.21, 148.68], "nice": false, "zero": false}, "axis": null},
                    "y": {"datum": 17113, "type": "quantitative", "scale": {"domain": [14027, 17160.5], "nice": false, "zero": false}, "axis": null},
                    "text": {"value": "15.676,90"}}},
      {"data": {"values": [{}]}, "mark": {"type": "text", "align": "left", "baseline": "middle", "fontSize": 7.2, "font": "Liberation Sans", "color": "#555555"},
       "encoding": {"x": {"datum": 0.35, "type": "quantitative", "scale": {"domain": [-0.21, 148.68], "nice": false, "zero": false}, "axis": null},
                    "y": {"datum": 17018, "type": "quantitative", "scale": {"domain": [14027, 17160.5], "nice": false, "zero": false}, "axis": null},
                    "text": {"value": "◷ 16.02.2023 - 15.09.2023  (7 Monate, 1 Tag)"}}}
    ]
  },
  {
    "width": 800,
    "height": 73,
    "resolve": {"axis": {"x": "independent", "y": "independent"}},
    "layer": [
      {"data": {"values": [{}]}, "mark": {"type": "rule", "color": "#b5b5b5", "strokeWidth": 1},
       "encoding": {"x": {"datum": -0.21, "type": "quantitative", "scale": {"domain": [-0.21, 148.68], "nice": false, "zero": false}, "axis": null},
                    "x2": {"datum": 148.68},
                    "y": {"datum": 233.7, "type": "quantitative", "scale": {"domain": [-156.7, 233.7], "nice": false, "zero": false}, "axis": null}}},
      {"data": {"name": "macd"}, "mark": {"type": "bar", "size": 4.8, "color": "#8a8aec", "stroke": "#4d4dc8", "strokeWidth": 0.5},
       "encoding": {"x": {"field": "i", "type": "quantitative", "scale": {"domain": [-0.21, 148.68], "nice": false, "zero": false},
                          "axis": {"title": null, "orient": "bottom", "values": [9, 32, 50, 72, 94, 115], "labels": false, "ticks": true, "tickSize": 4, "offset": -4, "tickColor": "#888888", "domain": false, "grid": true, "gridColor": "#ececec"}},
                    "y": {"field": "h", "type": "quantitative", "scale": {"domain": [-156.7, 233.7], "nice": false, "zero": false},
                          "axis": {"title": null, "orient": "right", "values": [0, 200], "format": ",.2f", "labelAlign": "right", "labelBaseline": "middle", "labelPadding": -7, "offset": -5, "tickSize": 5, "tickColor": "#888888", "domain": false, "grid": true, "gridColor": "#e4e4e4", "labelFont": "Liberation Sans", "labelFontSize": 7.5, "labelColor": "#666666", "labelOverlap": false, "labelBound": false}},
                    "y2": {"datum": 0}}},
      {"data": {"name": "macd"}, "mark": {"type": "line", "color": "#d83a3a", "strokeWidth": 1.3},
       "encoding": {"x": {"field": "i", "type": "quantitative", "scale": {"domain": [-0.21, 148.68], "nice": false, "zero": false}, "axis": null},
                    "y": {"field": "s", "type": "quantitative", "scale": {"domain": [-156.7, 233.7], "nice": false, "zero": false}, "axis": null}}},
      {"data": {"name": "macd"}, "mark": {"type": "line", "color": "#f3921c", "strokeWidth": 1.3},
       "encoding": {"x": {"field": "i", "type": "quantitative", "scale": {"domain": [-0.21, 148.68], "nice": false, "zero": false}, "axis": null},
                    "y": {"field": "m", "type": "quantitative", "scale": {"domain": [-156.7, 233.7], "nice": false, "zero": false}, "axis": null}}},
      {"data": {"values": [{}]}, "mark": {"type": "text", "align": "left", "baseline": "middle", "fontSize": 7.2, "font": "Liberation Sans", "color": "#f0a040"},
       "encoding": {"x": {"datum": 0.72, "type": "quantitative", "scale": {"domain": [-0.21, 148.68], "nice": false, "zero": false}, "axis": null},
                    "y": {"datum": 175, "type": "quantitative", "scale": {"domain": [-156.7, 233.7], "nice": false, "zero": false}, "axis": null},
                    "text": {"value": "▬ MACD(12, 26, 9)  -80,70"}}},
      {"data": {"values": [{}]}, "mark": {"type": "text", "align": "left", "baseline": "middle", "fontSize": 7.2, "font": "Liberation Sans", "color": "#dd5050"},
       "encoding": {"x": {"datum": 17.28, "type": "quantitative", "scale": {"domain": [-0.21, 148.68], "nice": false, "zero": false}, "axis": null},
                    "y": {"datum": 175, "type": "quantitative", "scale": {"domain": [-156.7, 233.7], "nice": false, "zero": false}, "axis": null},
                    "text": {"value": "-38,01"}}},
      {"data": {"values": [{}]}, "mark": {"type": "text", "align": "left", "baseline": "middle", "fontSize": 7.2, "font": "Liberation Sans", "color": "#6060d0"},
       "encoding": {"x": {"datum": 21.94, "type": "quantitative", "scale": {"domain": [-0.21, 148.68], "nice": false, "zero": false}, "axis": null},
                    "y": {"datum": 175, "type": "quantitative", "scale": {"domain": [-156.7, 233.7], "nice": false, "zero": false}, "axis": null},
                    "text": {"value": "-42,69"}}}
    ]
  }
]
}
